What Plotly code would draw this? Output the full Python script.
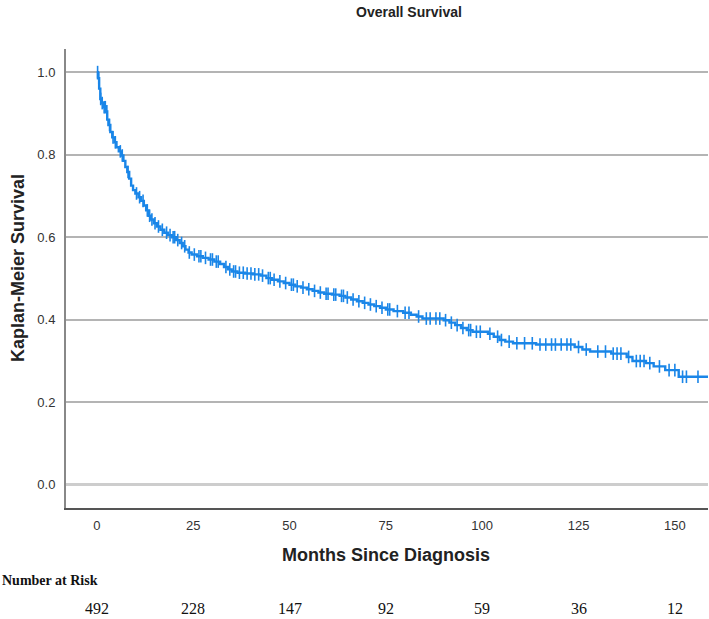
import bisect
import plotly.graph_objects as go

# Kaplan-Meier step curve (time in months, survival probability)
step_times = [0, 0.3, 0.6, 0.9, 1.3, 1.8, 2.3, 2.7, 3.0, 3.5, 4.0, 4.6, 5.1, 5.7, 6.3, 6.9,
              7.4, 7.9, 8.4, 8.9, 9.4, 10.0, 10.8, 11.5, 12.2, 12.8, 13.4, 14.0, 14.8, 15.6,
              16.5, 17.5, 18.5, 19.5, 20.5, 21.5, 22.3, 23.0, 23.8, 24.6, 26.0, 27.5, 29.0,
              30.5, 32.0, 33.0, 34.0, 35.0, 36.5, 38.5, 40.5, 42.5, 44.0, 45.5, 47.0, 48.5,
              50.0, 51.5, 53.0, 54.5, 56.0, 57.5, 59.0, 61.0, 63.0, 64.5, 66.0, 67.5, 69.0,
              70.5, 72.0, 73.5, 75.0, 77.0, 79.5, 81.5, 83.0, 84.5, 90.0, 91.5, 93.0, 94.5,
              96.0, 97.5, 101.5, 103.0, 104.5, 106.0, 108.0, 114.0, 124.0, 126.0, 128.0,
              133.5, 137.5, 139.0, 142.5, 144.5, 147.5, 151.0, 160.0]
step_surv = [1.0, 0.985, 0.96, 0.935, 0.925, 0.915, 0.905, 0.885, 0.872, 0.855, 0.842, 0.83,
             0.818, 0.808, 0.798, 0.785, 0.77, 0.758, 0.742, 0.725, 0.714, 0.706, 0.697, 0.688,
             0.677, 0.665, 0.652, 0.643, 0.634, 0.626, 0.618, 0.611, 0.605, 0.6, 0.593, 0.586,
             0.578, 0.57, 0.563, 0.558, 0.554, 0.55, 0.546, 0.541, 0.535, 0.528, 0.522, 0.517,
             0.514, 0.512, 0.51, 0.507, 0.501, 0.497, 0.493, 0.489, 0.485, 0.481, 0.478, 0.474,
             0.47, 0.466, 0.463, 0.461, 0.458, 0.454, 0.449, 0.445, 0.441, 0.437, 0.433, 0.429,
             0.425, 0.421, 0.417, 0.412, 0.408, 0.403, 0.399, 0.393, 0.387, 0.38, 0.375, 0.371,
             0.366, 0.359, 0.351, 0.347, 0.343, 0.34, 0.334, 0.328, 0.323, 0.318, 0.31, 0.3,
             0.295, 0.287, 0.278, 0.262, 0.262]

# Censored observation times (months)
censor_times = [0.2, 0.5, 1.0, 1.4, 1.9, 2.2, 2.6, 3.3, 4.2, 4.8, 6.1, 6.6, 8.1, 10.3, 11.1,
                12.0, 13.1, 13.7, 14.3, 15.1, 16.0, 17.0, 18.1, 19.0, 19.8, 20.2, 21.0, 22.0,
                22.8, 24.0, 25.3, 26.5, 27.0, 28.2, 29.5, 30.0, 31.0, 31.5, 33.5, 34.5, 35.5,
                36.0, 37.0, 38.0, 39.0, 40.0, 41.0, 42.0, 43.0, 44.5, 45.0, 46.0, 47.5, 49.0,
                50.5, 51.0, 52.0, 53.5, 55.0, 56.5, 58.0, 59.5, 60.0, 61.5, 62.0, 63.5, 64.0,
                65.0, 66.5, 68.0, 69.5, 71.0, 72.5, 74.0, 75.5, 76.0, 78.0, 80.0, 81.0, 83.5,
                85.5, 86.5, 88.0, 89.0, 90.5, 92.0, 93.5, 95.0, 96.5, 97.0, 98.5, 99.5, 102.0,
                104.0, 105.0, 107.0, 109.0, 111.0, 113.0, 115.0, 116.5, 118.0, 119.0, 120.5,
                122.0, 123.0, 125.0, 127.0, 130.0, 132.0, 134.0, 135.0, 136.0, 138.0, 140.0,
                141.0, 142.0, 143.5, 146.0, 148.5, 150.0, 152.0, 153.0, 156.0]

x_ticks = [0, 25, 50, 75, 100, 125, 150]
y_ticks = [0.0, 0.2, 0.4, 0.6, 0.8, 1.0]
risk_times = [0, 25, 50, 75, 100, 125, 150]
risk_counts = [492, 228, 147, 92, 59, 36, 12]

# survival at each censor time (lookup on the step function)
censor_surv = [step_surv[bisect.bisect_right(step_times, t) - 1] for t in censor_times]

BLUE = "#1a86e8"

fig = go.Figure()
fig.add_trace(go.Scatter(x=step_times, y=step_surv, mode="lines", line_shape="hv",
                         line=dict(color=BLUE, width=2.4), hoverinfo="skip", showlegend=False))
fig.add_trace(go.Scatter(x=censor_times, y=censor_surv, mode="markers",
                         marker=dict(symbol="line-ns", size=9, line=dict(color=BLUE, width=1.6)),
                         showlegend=False))

fig.update_layout(
    width=709, height=619,
    margin=dict(l=66, r=1, t=49, b=111),
    paper_bgcolor="white", plot_bgcolor="white",
    font=dict(family="Liberation Sans, Arial, sans-serif", color="#333"),
    showlegend=False,
)
fig.update_xaxes(range=[-8, 158.6], tickvals=x_ticks, ticktext=[str(v) for v in x_ticks],
                 showgrid=False, zeroline=False, showline=True, linecolor="#555", linewidth=1.5,
                 ticks="", tickfont=dict(size=13, color="#333"), ticklabelstandoff=5)
fig.update_yaxes(range=[-0.056, 1.056], tickvals=y_ticks, ticktext=[f"{v:.1f}" for v in y_ticks],
                 showgrid=True, gridcolor="#b4b4b4", gridwidth=1.5,
                 zeroline=True, zerolinecolor="#cdcdcd", zerolinewidth=2.5,
                 showline=True, linecolor="#888", linewidth=2,
                 ticks="", tickfont=dict(size=13, color="#333"), ticklabelstandoff=6)

def px_y(Y):
    return (508 - Y) / 459

def px_x(X):
    return (X - 66) / 642

anns = [
    dict(text="<b>Overall Survival</b>", x=px_x(409), y=px_y(12), xref="paper", yref="paper",
         showarrow=False, font=dict(size=14, color="#222"), xanchor="center", yanchor="middle"),
    dict(text="<b>Months Since Diagnosis</b>", x=px_x(386), y=px_y(555), xref="paper", yref="paper",
         showarrow=False, font=dict(size=18, color="#222"), xanchor="center", yanchor="middle"),
    dict(text="<b>Kaplan-Meier Survival</b>", x=px_x(18), y=px_y(268), xref="paper", yref="paper",
         showarrow=False, textangle=-90, font=dict(size=18, color="#222"),
         xanchor="center", yanchor="middle"),
    dict(text="<b>Number at Risk</b>", x=px_x(0), y=px_y(580), xref="paper", yref="paper",
         showarrow=False, font=dict(size=14, color="#111", family="Liberation Serif, Times New Roman, serif"),
         xanchor="left", yanchor="middle"),
]
for t, n in zip(risk_times, risk_counts):
    anns.append(dict(text=str(n), x=t, y=px_y(608), xref="x", yref="paper", showarrow=False,
                     font=dict(size=16, color="#111", family="Liberation Serif, Times New Roman, serif"),
                     xanchor="center", yanchor="middle"))
fig.update_layout(annotations=anns)

fig.write_html("out.html", config={"displayModeBar": False},
               post_script="document.body.style.margin='0';document.body.style.padding='0';")
